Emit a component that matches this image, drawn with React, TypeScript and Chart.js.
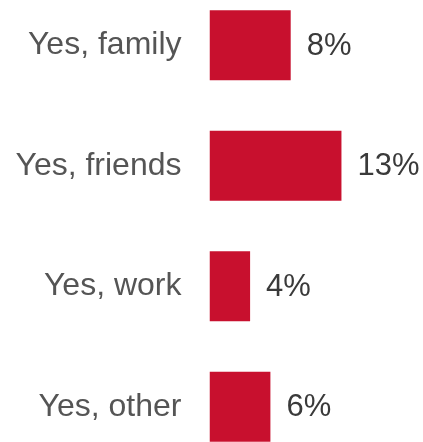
import React, { useEffect, useRef } from "react";
import { Chart, registerables } from "chart.js";

Chart.register(...registerables);

const categories = ["Yes, family", "Yes, friends", "Yes, work", "Yes, other"];
const values = [8, 13, 4, 6];
const valueLabels = ["8%", "13%", "4%", "6%"];

const valueLabelPlugin = {
  id: "valueLabels",
  afterDatasetsDraw(chart: any) {
    const ctx = chart.ctx;
    const meta = chart.getDatasetMeta(0);
    ctx.save();
    ctx.font = "31px 'Liberation Sans', Arial, sans-serif";
    ctx.fillStyle = "#3a3a3a";
    ctx.textAlign = "left";
    ctx.textBaseline = "middle";
    meta.data.forEach((bar: any, i: number) => {
      ctx.fillText(valueLabels[i], bar.x + 16, bar.y + 1);
    });
    ctx.restore();
  },
};

export default function App() {
  const ref = useRef<HTMLCanvasElement | null>(null);
  useEffect(() => {
    if (!ref.current) return;
    const chart = new Chart(ref.current, {
      type: "bar",
      data: {
        labels: categories,
        datasets: [
          {
            data: values,
            backgroundColor: "#C8102E",
            borderWidth: 0,
            barPercentage: 0.58,
            categoryPercentage: 1,
          },
        ],
      },
      options: {
        indexAxis: "y",
        animation: false,
        responsive: false,
        maintainAspectRatio: false,
        layout: { padding: { left: 0, right: 10.5, top: 0, bottom: 0 } },
        plugins: { legend: { display: false }, tooltip: { enabled: false } },
        scales: {
          x: { display: false, min: 0, max: 20 },
          y: {
            grid: { display: false, drawTicks: false },
            border: { display: false },
            ticks: {
              color: "#555555",
              font: { family: "'Liberation Sans', Arial, sans-serif", size: 32 },
              padding: 28,
            },
            afterFit: (s: any) => {
              s.width = 209.5;
              s.paddingTop = 0;
              s.paddingBottom = 0;
            },
          },
        },
      },
      plugins: [valueLabelPlugin],
    });
    return () => chart.destroy();
  }, []);
  return (
    <div style={{ position: "fixed", left: 0, top: -15, width: 423, height: 482 }}>
      <canvas ref={ref} width={423} height={482} style={{ width: 423, height: 482 }} />
    </div>
  );
}
